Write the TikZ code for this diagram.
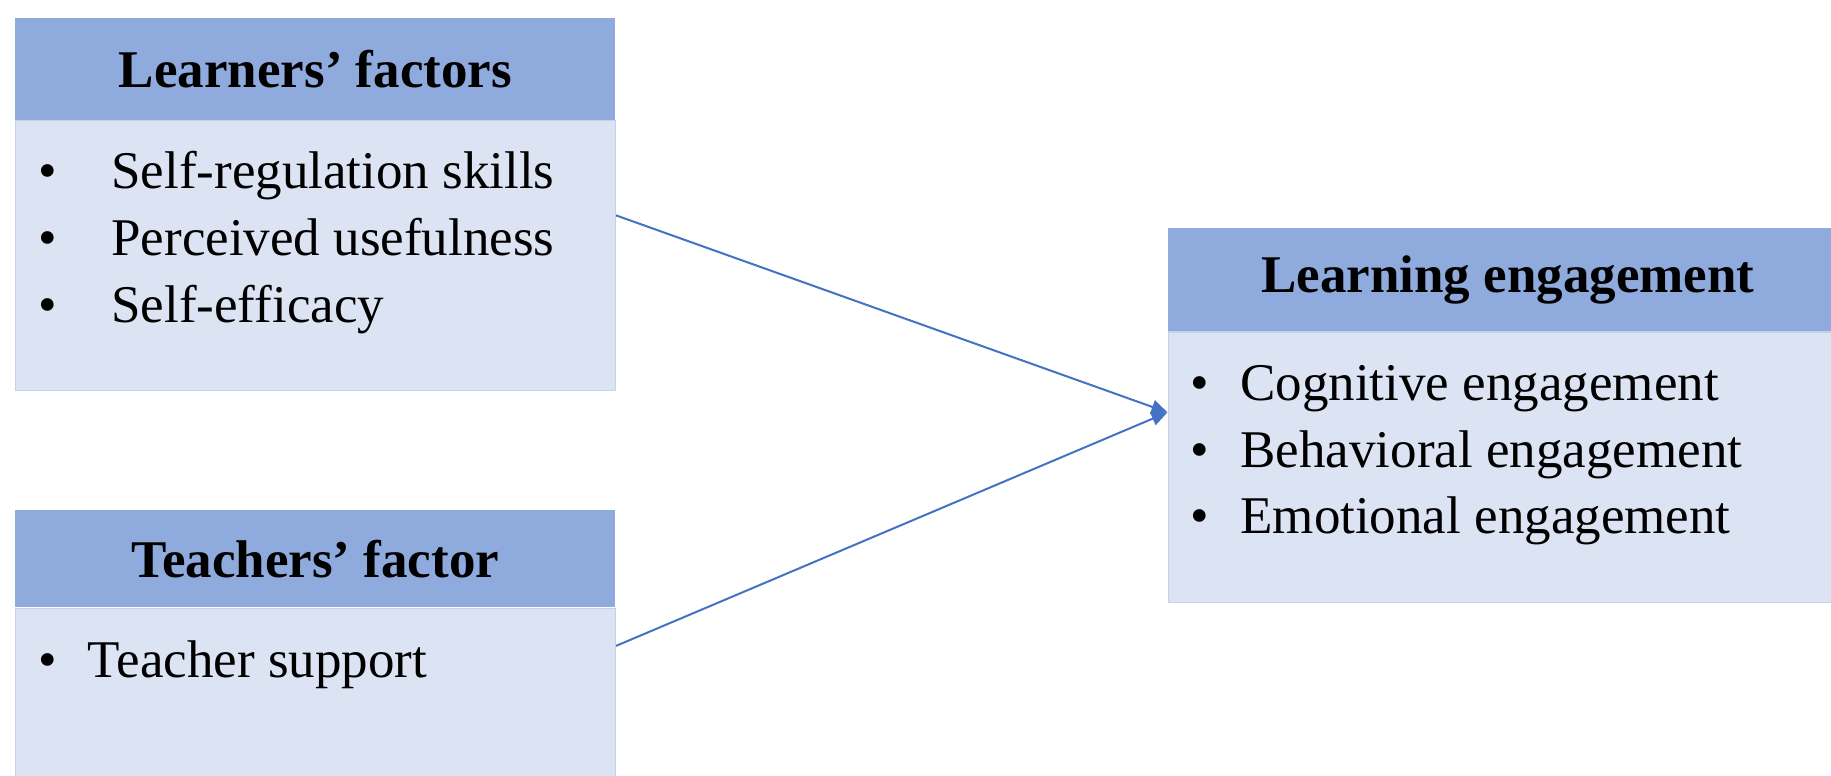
\documentclass[tikz,border=0pt]{standalone}
\usepackage{fontspec}
\setmainfont{Liberation Serif}
\usepackage{tikz}
\usetikzlibrary{positioning,arrows.meta}

\definecolor{headblue}{HTML}{8FAADC}
\definecolor{bodyblue}{HTML}{DCE3F3}
\definecolor{edgeblue}{HTML}{C3D1EC}
\definecolor{arrowblue}{HTML}{4472C4}
\newcommand{\bitem}[2]{\makebox[#1][l]{\textbullet}#2}

\begin{document}
\begin{tikzpicture}[
  x=0.5pt, y=-0.5pt,
  node distance=0pt,
  every node/.style={inner sep=0pt, font=\fontsize{26.5pt}{33.3pt}\selectfont},
  head/.style={
    rectangle, fill=headblue, anchor=north west,
    font=\fontsize{26.5pt}{33.3pt}\selectfont\bfseries
  },
  body/.style={rectangle, fill=bodyblue, draw=edgeblue, line width=0.6pt},
  item/.style={anchor=base west},
  arr/.style={-{Triangle[length=8pt,width=7pt]}, draw=arrowblue, line width=1pt}
]
\useasboundingbox (0,0) rectangle (1831,776);
% learners
\node[head, minimum width=300pt, minimum height=50.8pt] (lhead) at (15,17.5) {Learners’ factors};
\node[body, below=of lhead, minimum width=300pt, minimum height=134.85pt] (lbody) {};
\node[item] (l1) at (38,188) {\bitem{36.5pt}{Self-regulation skills}};
\node[item] (l2) at (38,255) {\bitem{36.5pt}{Perceived usefulness}};
\node[item] (l3) at (38,322) {\bitem{36.5pt}{Self-efficacy}};
% teachers
\node[head, minimum width=300pt, minimum height=48.5pt] (thead) at (15,510) {Teachers’ factor};
\node[body, below=of thead, minimum width=300pt, minimum height=91.5pt] (tbody) {};
\node[item] (t1) at (38,677) {\bitem{24.8pt}{Teacher support}};
% engagement
\node[head, minimum width=339.7pt, minimum height=51.4pt] (ehead) at (1167.7,227.7) {Learning engagement};
\node[body, below=of ehead, minimum width=339.7pt, minimum height=135.45pt] (ebody) {};
\node[item] (e1) at (1190,400) {\bitem{25pt}{Cognitive engagement}};
\node[item] (e2) at (1190,467) {\bitem{25pt}{Behavioral engagement}};
\node[item] (e3) at (1190,533) {\bitem{25pt}{Emotional engagement}};

\draw[arr] ([yshift=20pt]lbody.east) -- ([yshift=27.5pt]ebody.west);
\draw[arr] ([yshift=27pt]tbody.east) -- ([yshift=27.5pt]ebody.west);
\end{tikzpicture}
\end{document}
